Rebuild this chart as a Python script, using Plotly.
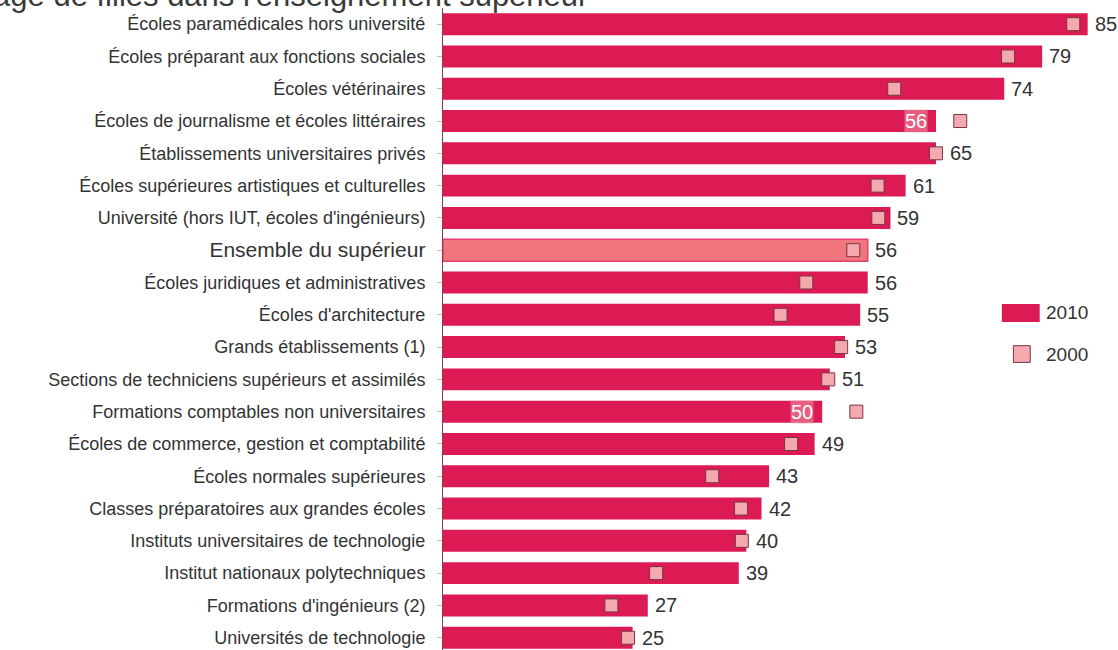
import plotly.graph_objects as go

categories = [
    "Écoles paramédicales hors université",
    "Écoles préparant aux fonctions sociales",
    "Écoles vétérinaires",
    "Écoles de journalisme et écoles littéraires",
    "Établissements universitaires privés",
    "Écoles supérieures artistiques et culturelles",
    "Université (hors IUT, écoles d'ingénieurs)",
    "Ensemble du supérieur",
    "Écoles juridiques et administratives",
    "Écoles d'architecture",
    "Grands établissements (1)",
    "Sections de techniciens supérieurs et assimilés",
    "Formations comptables non universitaires",
    "Écoles de commerce, gestion et comptabilité",
    "Écoles normales supérieures",
    "Classes préparatoires aux grandes écoles",
    "Instituts universitaires de technologie",
    "Institut nationaux polytechniques",
    "Formations d'ingénieurs (2)",
    "Universités de technologie",
]
values_2010 = [85, 79, 74, 65, 65, 61, 59, 56, 56, 55, 53, 51, 50, 49, 43, 42, 40, 39, 27, 25]
values_2000 = [83.1, 74.5, 59.5, 68.2, 65.0, 57.3, 57.4, 54.1, 47.9, 44.5, 52.5, 50.8, 54.5, 45.9,
               35.5, 39.3, 39.4, 28.1, 22.2, 24.4]
value_labels = ["85", "79", "74", "56", "65", "61", "59", "56", "56", "55", "53", "51", "50", "49",
                "43", "42", "40", "39", "27", "25"]
label_inside = [False, False, False, True, False, False, False, False, False, False, False, False,
                True, False, False, False, False, False, False, False]
highlight = "Ensemble du supérieur"
title_text = "Pourcentage de filles dans l'enseignement supérieur"
legend_labels = ["2010", "2000"]

BAR = "#DC1B55"
BAR_HL = "#F2767E"
MK = "#F3A9AE"
MK_LINE = "#7A3444"
FONT = "Liberation Sans, Arial, sans-serif"
TXT = "#333333"

n = len(categories)
ypos = list(range(n - 1, -1, -1))  # top row at highest index

bar_colors = [BAR_HL if c == highlight else BAR for c in categories]
bar_line_colors = ["#E2406A" if c == highlight else BAR for c in categories]
bar_line_w = [1.5 if c == highlight else 0 for c in categories]

fig = go.Figure()
fig.add_trace(go.Bar(
    y=ypos, x=values_2010, orientation="h", width=0.68,
    marker=dict(color=bar_colors, line=dict(color=bar_line_colors, width=bar_line_w)),
    showlegend=False, hoverinfo="skip",
))
fig.add_trace(go.Scatter(
    y=ypos, x=values_2000, mode="markers",
    marker=dict(symbol="square", size=13, color=MK, line=dict(color=MK_LINE, width=1)),
    showlegend=False, hoverinfo="skip",
))

for y, v10, v00, lab, inside in zip(ypos, values_2010, values_2000, value_labels, label_inside):
    if inside:
        fig.add_annotation(x=v10, y=y, text=lab, showarrow=False, xanchor="right", xshift=-8,
                           font=dict(family=FONT, size=20, color="white"),
                           bgcolor="rgba(240,150,170,0.55)", borderpad=0)
    else:
        fig.add_annotation(x=max(v10, v00 + 0.9), y=y, text=lab, showarrow=False, xanchor="left",
                           xshift=5, font=dict(family=FONT, size=20, color=TXT))

ticktext = []
for c in categories:
    if c == highlight:
        ticktext.append('<span style="font-size:21px">%s</span>' % c)
    else:
        ticktext.append(c)

# legend (drawn manually)
fig.add_shape(type="rect", xref="paper", yref="paper", x0=0.828, x1=0.884, y0=0.511, y1=0.539,
              fillcolor=BAR, line=dict(width=0))
fig.add_shape(type="rect", xref="paper", yref="paper", x0=0.845, x1=0.870, y0=0.448, y1=0.474,
              fillcolor=MK, line=dict(color=MK_LINE, width=1))
fig.add_annotation(xref="paper", yref="paper", x=0.891, y=0.525, text=legend_labels[0],
                   showarrow=False, xanchor="left", font=dict(family=FONT, size=19, color=TXT))
fig.add_annotation(xref="paper", yref="paper", x=0.891, y=0.460, text=legend_labels[1],
                   showarrow=False, xanchor="left", font=dict(family=FONT, size=19, color=TXT))

# title (cut off at the top-left as in the source)
fig.add_annotation(xref="paper", yref="paper", x=0.2178, y=0.9885, text=title_text, showarrow=False,
                   xanchor="right", yanchor="bottom",
                   font=dict(family=FONT, size=31, color="#3a3a3a"))

fig.update_layout(
    width=1118, height=650,
    margin=dict(l=443, r=0, t=8, b=0),
    paper_bgcolor="white", plot_bgcolor="white",
    xaxis=dict(range=[0, 89], visible=False, fixedrange=True),
    yaxis=dict(
        range=[-0.38, n - 0.5], tickmode="array", tickvals=ypos, ticktext=ticktext,
        showline=True, linecolor="#8A3A4A", linewidth=1,
        ticks="outside", ticklen=5, tickcolor="#BBBBBB",
        showgrid=False, zeroline=False, automargin=False, fixedrange=True,
        tickfont=dict(family=FONT, size=18, color=TXT),
        ticklabelstandoff=8,
    ),
)

fig.write_html("out.html", config={"displayModeBar": False},
               post_script="document.body.style.margin='0';document.body.style.overflow='hidden';")
